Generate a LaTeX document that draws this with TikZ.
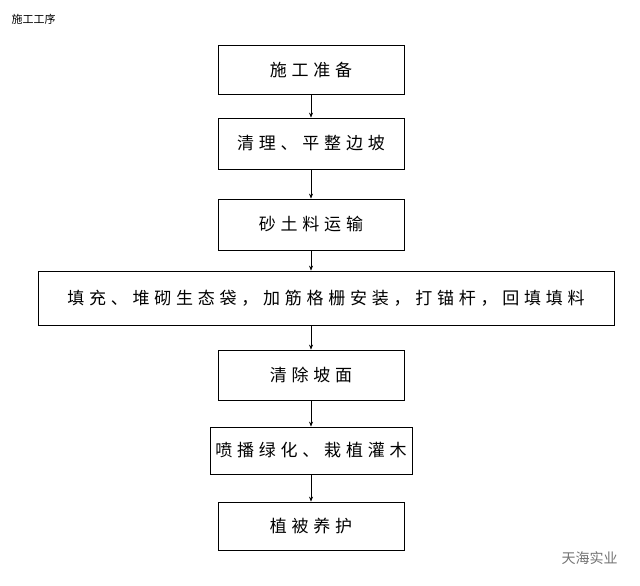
\documentclass[tikz,border=0pt]{standalone}
\usepackage{fontspec}
\setmainfont{Noto Sans CJK SC}
\newfontfamily\spacedcjk[LetterSpace=28]{Noto Sans CJK SC}
\usetikzlibrary{arrows.meta}
\begin{document}
\begin{tikzpicture}[x=1pt,y=-1pt,
  box/.style={draw,line width=0.8pt,minimum height=49pt,font=\spacedcjk\fontsize{17}{20}\selectfont,inner sep=0pt},
  conn/.style={-{Stealth[length=5pt,width=4pt]},line width=0.6pt}]
\useasboundingbox (0,0) rectangle (640,586);
\node[anchor=west,font=\fontsize{11}{13}\selectfont] (title) at (8,19) {施工工序};
\node[box,minimum width=186pt] (a) at (311,70) {施工准备};
\node[box,minimum width=186pt,minimum height=51pt] (b) at (311,143.5) {清理、平整边坡};
\node[box,minimum width=186pt,minimum height=51pt] (c) at (311,224.5) {砂土料运输};
\node[box,minimum width=576pt,minimum height=54pt] (d) at (326,298) {填充、堆砌生态袋，加筋格栅安装，打锚杆，回填填料};
\node[box,minimum width=186pt,minimum height=50pt] (e) at (311,375) {清除坡面};
\node[box,minimum width=202pt,minimum height=47pt] (f) at (311,450.5) {喷播绿化、栽植灌木};
\node[box,minimum width=186pt,minimum height=48pt] (g) at (311,526) {植被养护};
\draw[conn] (a) -- (b);
\draw[conn] (b) -- (c);
\draw[conn] (c) -- (d.north -| c);
\draw[conn] (d.south -| e) -- (e);
\draw[conn] (e) -- (f);
\draw[conn] (f) -- (g);
\node[anchor=west,text=gray!90!black,font=\fontsize{14}{16}\selectfont] (w) at (558,558) {天海实业};
\end{tikzpicture}
\end{document}
